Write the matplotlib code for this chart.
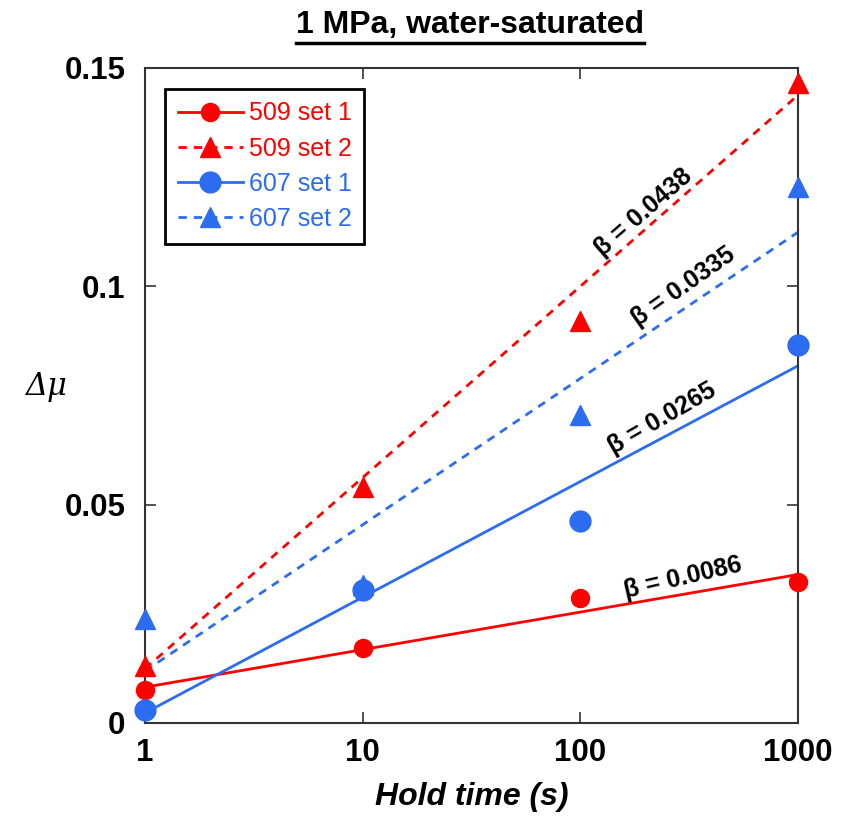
import numpy as np
import matplotlib
matplotlib.use('Agg')
import matplotlib.pyplot as plt
from matplotlib.lines import Line2D

plt.rcParams['font.family'] = ['Liberation Sans', 'DejaVu Sans']

# hold times (s)
hold_time = [1, 10, 100, 1000]

# measured delta mu
mu_509_set1 = [0.0076, 0.0172, 0.0286, 0.0323]
mu_509_set2 = [0.0131, 0.0540, 0.0920, 0.1466]
mu_607_set1 = [0.0030, 0.0305, 0.0462, 0.0866]
mu_607_set2 = [0.0238, 0.0316, 0.0705, 0.1227]

# fitted lines: mu = a + beta * log10(t)
fit_names = ['509 set 1', '509 set 2', '607 set 1', '607 set 2']
fit_beta = [0.0086, 0.0438, 0.0265, 0.0335]
fit_a = [0.0082, 0.0124, 0.0023, 0.0119]

x_ticks = [1, 10, 100, 1000]
x_ticklabels = ['1', '10', '100', '1000']
y_ticks = [0, 0.05, 0.1, 0.15]
y_ticklabels = ['0', '0.05', '0.1', '0.15']

red = '#FF0000'
blue = '#2B6CF0'

fig = plt.figure(figsize=(8.57, 8.21), dpi=100)
ax = fig.add_axes([0.1692, 0.1194, 0.762, 0.7978])

styles = [
    dict(color=red, ls='-', marker='o', ms=13),
    dict(color=red, ls=(0, (3, 2.5)), marker='^', ms=14),
    dict(color=blue, ls='-', marker='o', ms=15),
    dict(color=blue, ls=(0, (3, 2.5)), marker='^', ms=14),
]
series = [mu_509_set1, mu_509_set2, mu_607_set1, mu_607_set2]

t_fit = np.array([1, 1000])
for a, b, st in zip(fit_a, fit_beta, styles):
    ax.plot(t_fit, a + b * np.log10(t_fit), color=st['color'], ls=st['ls'],
            lw=2, zorder=2)

# draw triangles first so circles sit on top
for i in [1, 3, 0, 2]:
    st = styles[i]
    ax.plot(hold_time, series[i], ls='none', marker=st['marker'], ms=st['ms'],
            color=st['color'], mec=st['color'], zorder=3, clip_on=False)

# beta labels: (x, y, rotation)
beta_pos = [(296, 0.0332, 13), (194, 0.1168, 41), (237, 0.0698, 30), (296, 0.0998, 35)]
for b, (x, y, rot) in zip(fit_beta, beta_pos):
    ax.text(x, y, f'\u03b2 = {b:.4f}', rotation=rot, ha='center', va='center',
            fontsize=18, fontweight='bold', rotation_mode='anchor')

ax.set_xscale('log')
ax.set_xlim(1, 1000)
ax.set_ylim(0, 0.15)
ax.set_xticks(x_ticks)
ax.set_xticklabels(x_ticklabels)
ax.set_yticks(y_ticks)
ax.set_yticklabels(y_ticklabels)
ax.minorticks_off()
ax.tick_params(direction='in', length=8, width=1.2, top=True, right=True,
               labelsize=22.5, color='#333333')
ax.tick_params(axis='y', pad=14)
ax.tick_params(axis='x', pad=11)
for lab in ax.get_xticklabels() + ax.get_yticklabels():
    lab.set_fontweight('bold')
for sp in ax.spines.values():
    sp.set_linewidth(1.5)
    sp.set_color('#333333')

ax.set_xlabel('Hold time (s)', fontsize=23, fontweight='bold', style='italic',
              labelpad=10)
fig.text(0.055, 0.529, '\u0394\u03bc', fontsize=22, style='italic',
         ha='center', va='center', family=['DejaVu Serif'])

handles = [Line2D([0], [0], color=st['color'], ls=st['ls'], lw=2,
                  marker=st['marker'], ms=st['ms']) for st in styles]
leg = ax.legend(handles, fit_names, loc='upper left', bbox_to_anchor=(0.031, 0.968),
                fontsize=18, handlelength=2.6, handletextpad=0.25,
                labelspacing=0.45, borderpad=0.5, borderaxespad=0,
                fancybox=False, framealpha=1, edgecolor='black')
leg.get_frame().set_linewidth(2)
for txt, st in zip(leg.get_texts(), styles):
    txt.set_color(st['color'])

title = fig.text(0.549, 0.969, '1 MPa, water-saturated', ha='center', va='center',
                 fontsize=23, fontweight='bold')
fig.canvas.draw()
bb = title.get_window_extent().transformed(fig.transFigure.inverted())
fig.add_artist(Line2D([bb.x0, bb.x1], [bb.y0 - 0.003, bb.y0 - 0.003],
                      color='black', lw=2.5, transform=fig.transFigure))

fig.savefig('out.png', dpi=100)
